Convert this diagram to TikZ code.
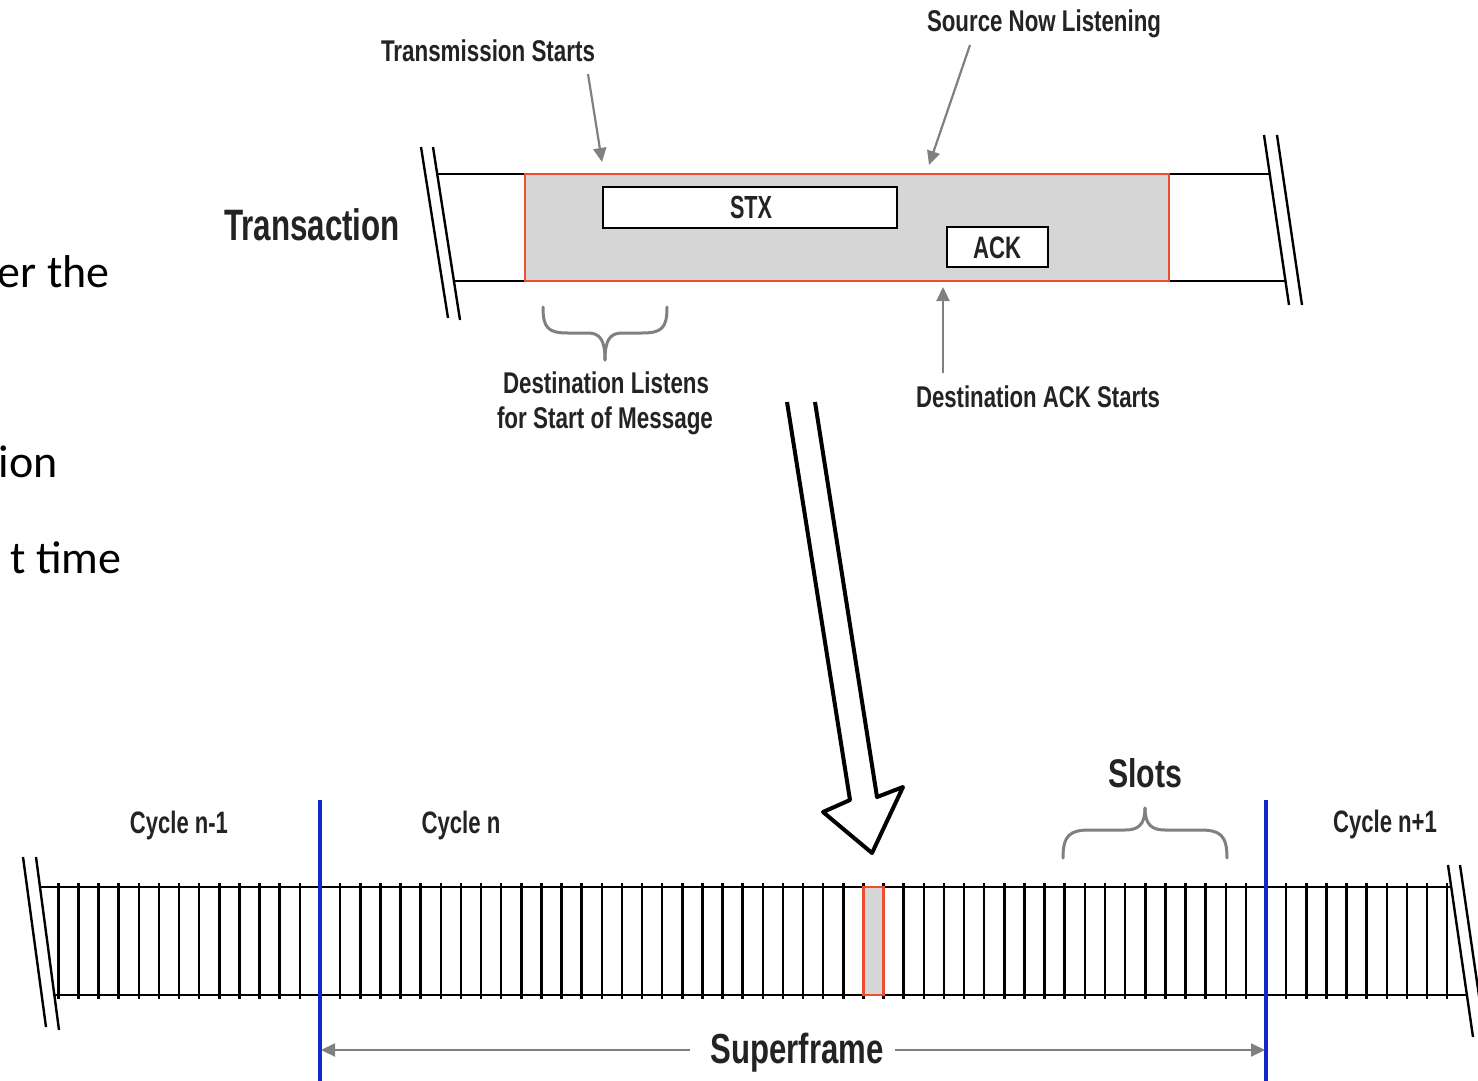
\documentclass[tikz,border=0pt]{standalone}
\usepackage{fontspec}
\usepackage{graphicx}
\setmainfont{Liberation Sans}
\newfontfamily\lblfont{Liberation Sans Bold}
\newfontfamily\slidefont{Carlito}
\usetikzlibrary{arrows.meta}
\newlength\pxu \setlength\pxu{0.5pt}
\newcommand\fitlbl[3]{\resizebox{#1\pxu}{\height}{\lblfont\fontsize{#2pt}{#2pt}\selectfont #3}}
\definecolor{redline}{RGB}{236,78,48}
\definecolor{slotgray}{RGB}{214,214,214}
\definecolor{cycleblue}{RGB}{20,40,200}
\definecolor{txtgray}{RGB}{35,35,35}
\definecolor{arrgray}{RGB}{128,128,128}
\begin{document}
\begin{tikzpicture}[x=0.5pt,y=-0.5pt,
  lbl/.style={inner sep=0pt, anchor=base, text=txtgray},
  slidetxt/.style={inner sep=0pt, anchor=base east, text=black, font=\slidefont\fontsize{23pt}{27pt}\selectfont},
  garrow/.style={draw=arrgray, line width=1.1pt, -{Triangle[length=7pt,width=6.5pt]}},
  gbrace/.style={draw=arrgray, line width=1.5pt, line cap=round, line join=round},
  blackbar/.style={draw=black, line width=1.3pt},
  breakline/.style={draw=black, line width=1.2pt},
  slottick/.style={draw=black, line width=1.25pt},
  redbox/.style={draw=redline, line width=1.3pt},
  msgbox/.style={draw=black, fill=white, line width=1.2pt, inner sep=0pt},
  bluebar/.style={draw=cycleblue, line width=1.9pt},
  hollow/.style={draw=black, fill=white, line width=2pt, line join=round}
]
\clip (0,0) rectangle (1478,1081);
\fill[white] (0,0) rectangle (1478,1081);

% ---------- slide text fragments on the left ----------
\node[slidetxt] (frag1) at (110,287) {er the};
\node[slidetxt] (frag2) at (58,477) {ion};
\node[slidetxt] (frag3) at (122,573) {t time};

% ---------- transaction strip ----------
\fill[slotgray] (525,174) rectangle (1169,281);
\draw[blackbar] (437,174) -- (525,174);
\draw[blackbar] (454,281) -- (525,281);
\draw[blackbar] (1169,174) -- (1270,174);
\draw[blackbar] (1169,281) -- (1285,281);
\draw[redbox] (525,174) rectangle (1169,281);
\draw[breakline] (421,147) -- (448,318);
\draw[breakline] (433,147) -- (460,320);
\draw[breakline] (1264,135) -- (1289,305);
\draw[breakline] (1277,135) -- (1302,305);

\node[msgbox, minimum width=147pt, minimum height=20.5pt] (stxbox) at (750,207.5) {};
\node[lbl] (stx) at (751,219) {\fitlbl{42}{16}{STX}};
\node[msgbox, minimum width=50.5pt, minimum height=20pt] (ackbox) at (997.5,247) {};
\node[lbl] (ack) at (997,258) {\fitlbl{48}{15.5}{ACK}};

\node[lbl] (transaction) at (312,240) {\fitlbl{176}{22}{Transaction}};

% labels with arrows
\node[lbl] (txstart) at (488,62) {\fitlbl{214}{15}{Transmission Starts}};
\coordinate (txa) at (588,74);
\coordinate (txb) at (602,162);
\draw[garrow] (txa) -- (txb);

\node[lbl] (srclisten) at (1044,32) {\fitlbl{234}{15}{Source Now Listening}};
\coordinate (sla) at (970,45);
\coordinate (slb) at (929,165);
\draw[garrow] (sla) -- (slb);

\node[lbl] (ackstart) at (1038,407) {\fitlbl{244}{15}{Destination ACK Starts}};
\coordinate (asa) at (943,373);
\coordinate (asb) at (943,287);
\draw[garrow] (asa) -- (asb);

% brace under transaction start
\draw[gbrace] (543,307) .. controls (543,328) and (548,333) .. (568,333) -- (588,333)
  .. controls (600,333) and (605,340) .. (605,360);
\draw[gbrace] (667,307) .. controls (667,328) and (662,333) .. (642,333) -- (622,333)
  .. controls (610,333) and (605,340) .. (605,360);
\node[lbl] (dl1) at (606,393) {\fitlbl{206}{15}{Destination Listens}};
\node[lbl] (dl2) at (605,428) {\fitlbl{216}{15}{for Start of Message}};

% ---------- big hollow arrow ----------
\draw[hollow] (787,402) -- (850,800) -- (823,812) -- (872,853) -- (903,787) -- (877,797) -- (815,402);

% ---------- slot strip ----------
\foreach \k in {-13,...,56}{
  \draw[slottick] ({320+20.128*\k},883) -- ({320+20.128*\k},999);
}
\draw[blackbar] (39,887) -- (1451,887);
\draw[blackbar] (54,995) -- (1467,995);
\fill[slotgray] (863.5,887) rectangle (883.6,995);
\draw[redbox] (863.5,887) rectangle (883.6,995);
\draw[breakline] (23,857) -- (46,1027);
\draw[breakline] (36,857) -- (59,1030);
\draw[breakline] (1448,865) -- (1473,1037);
\draw[breakline] (1460,865) -- (1485,1037);

\draw[bluebar] (320,800) -- (320,1081);
\draw[bluebar] (1266,800) -- (1266,1081);

\node[lbl] (cyc1) at (179,833) {\fitlbl{98}{15.5}{Cycle n-1}};
\node[lbl] (cyc2) at (461,833) {\fitlbl{79}{15.5}{Cycle n}};
\node[lbl] (cyc3) at (1385,832) {\fitlbl{104}{15.5}{Cycle n+1}};

\node[lbl] (slots) at (1145,787) {\fitlbl{74}{20}{Slots}};
\draw[gbrace] (1063,858) .. controls (1063,835) and (1070,830) .. (1090,830) -- (1125,830)
  .. controls (1138,830) and (1145,825) .. (1145,808);
\draw[gbrace] (1227,858) .. controls (1227,835) and (1220,830) .. (1200,830) -- (1165,830)
  .. controls (1152,830) and (1145,825) .. (1145,808);

\node[lbl] (superframe) at (797,1063) {\fitlbl{173}{21}{Superframe}};
\coordinate (sfL) at (321,1050);
\coordinate (sfLin) at (690,1050);
\coordinate (sfRin) at (895,1050);
\coordinate (sfR) at (1265,1050);
\draw[garrow] (sfLin) -- (sfL);
\draw[garrow] (sfRin) -- (sfR);
\end{tikzpicture}
\end{document}
